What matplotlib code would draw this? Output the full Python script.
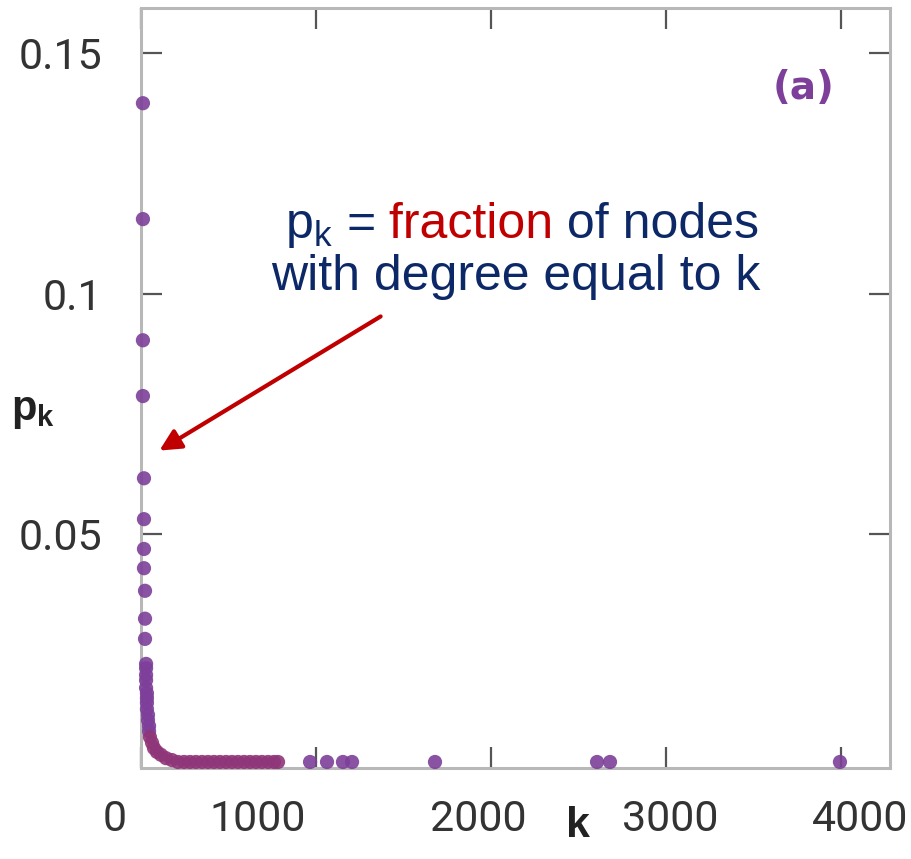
import matplotlib.pyplot as plt
from matplotlib.offsetbox import TextArea, HPacker, AnchoredOffsetbox
from matplotlib.transforms import ScaledTranslation

plt.rcParams['mathtext.fontset'] = 'custom'
plt.rcParams['mathtext.rm'] = 'Liberation Sans'
plt.rcParams['mathtext.it'] = 'Liberation Sans'
plt.rcParams['mathtext.bf'] = 'Liberation Sans:bold'

# degree k and fraction p_k
k = [11, 11, 11, 11, 17, 17, 17, 17, 23, 23, 23,
     29, 29, 29, 29, 29, 34, 34, 34, 34, 40, 40, 46, 46, 51,
     63, 74, 91, 114, 143, 177,
     211, 246, 280, 314, 349, 383, 417, 451, 486, 520, 554, 589,
     623, 657, 691, 726, 760, 783,
     966, 1063, 1154, 1206, 1680, 2606, 2680, 3994]
pk = [0.1396, 0.1155, 0.0903, 0.0787, 0.0616, 0.0531, 0.0469, 0.0429,
      0.0382, 0.0324, 0.0282,
      0.0230, 0.0221, 0.0207, 0.0196, 0.0180, 0.0169, 0.0159, 0.0149,
      0.0136, 0.0124, 0.0113, 0.0101, 0.0090, 0.0078,
      0.0066, 0.0055, 0.0047, 0.0041, 0.0034, 0.0030,
      0.0026, 0.0026, 0.0026, 0.0026, 0.0026, 0.0026, 0.0026, 0.0026,
      0.0026, 0.0026, 0.0026, 0.0026, 0.0026, 0.0026, 0.0026, 0.0026,
      0.0026, 0.0026,
      0.0026, 0.0026, 0.0026, 0.0026, 0.0026, 0.0026, 0.0026, 0.0026]

xticks = [0, 1000, 2000, 3000, 4000]
yticks = [0.05, 0.1, 0.15]
ytick_labels = ['0.05', '0.1', '0.15']

purple = '#7d3f99'
navy = '#0d2866'
red = '#c00000'

fig = plt.figure(figsize=(9.11, 8.59), dpi=100)
ax = fig.add_axes([141 / 911, 91 / 859, 749 / 911, 760 / 859])

cols = ['#8f3579' if (p < 0.008 and kk < 800) else purple for kk, p in zip(k, pk)]
ax.scatter(k, pk, s=105, c=cols, alpha=0.9, edgecolors='none', zorder=3, clip_on=False)

ax.set_xlim(0, 4280)
ax.set_ylim(0.00135, 0.1594)
ax.set_xticks(xticks)
ax.set_yticks(yticks)
ax.set_yticklabels(ytick_labels)

for s in ax.spines.values():
    s.set_color('#b8b8b8')
    s.set_linewidth(2.2)
ax.tick_params(direction='in', length=15, width=1.6, color='#555555',
               top=True, right=True, labelsize=31, labelcolor='#333333')
ax.tick_params(axis='x', pad=22)
ax.tick_params(axis='y', pad=28)
for lab in ax.get_xticklabels() + ax.get_yticklabels():
    lab.set_fontfamily('Roboto')

# the x labels in the original sit a little off their ticks
shifts = [-26, -58, -13, 4, 19]
for lab, dx in zip(ax.get_xticklabels(), shifts):
    lab.set_transform(lab.get_transform() + ScaledTranslation(dx / 100, 0, fig.dpi_scale_trans))

fig.text(33 / 911, 1 - 410 / 859, r'$\mathbf{p_k}$', fontsize=30,
         color='#222222', ha='center', va='center')
fig.text(578 / 911, 1 - 826 / 859, 'k', fontsize=31, fontweight='bold',
         family='Liberation Sans', color='#222222', ha='center', va='center')

ax.text(0.885, 0.895, '(a)', transform=ax.transAxes, fontsize=28,
        fontweight='bold', color=purple, ha='center', va='center')

# annotation text
tp = dict(fontsize=36, family='Liberation Sans', color=navy)
line1 = HPacker(children=[TextArea(r'$\mathregular{p_k}$ =', textprops=tp),
                          TextArea(' fraction', textprops=dict(tp, color=red)),
                          TextArea(' of nodes', textprops=tp)],
                align='baseline', pad=0, sep=0)
box = AnchoredOffsetbox(loc='lower center', child=line1, frameon=False, pad=0,
                        borderpad=0, bbox_to_anchor=(522 / 911, 1 - 250 / 859),
                        bbox_transform=fig.transFigure)
fig.add_artist(box)
fig.text(516 / 911, 1 - 290 / 859, 'with degree equal to k', va='baseline',
         ha='center', **tp)

ax.annotate('', xy=(157, 859 - 452), xycoords='figure pixels',
            xytext=(383, 859 - 315), textcoords='figure pixels',
            arrowprops=dict(arrowstyle='-|>', color=red, lw=3, mutation_scale=32))

fig.savefig('out.png', dpi=100)
